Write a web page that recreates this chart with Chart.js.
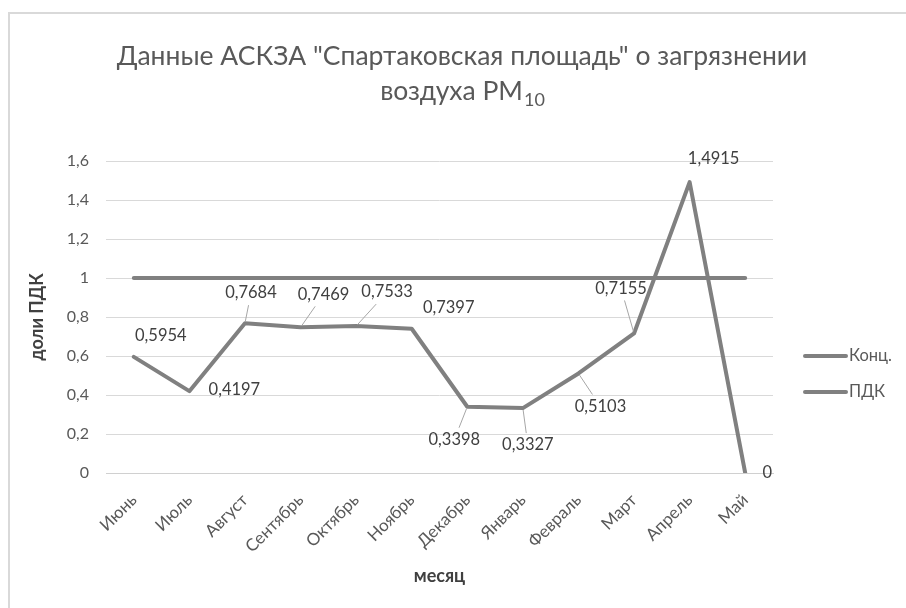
<!DOCTYPE html>
<html>
<head>
<meta charset="utf-8">
<script src="https://cdn.jsdelivr.net/npm/chart.js@4/dist/chart.umd.min.js"></script>
<style>
  html, body { margin: 0; padding: 0; background: #fff; }
  canvas { display: block; }
</style>
</head>
<body>
<canvas id="chartPM10" width="906" height="608"></canvas>
<script>
// Monthly PM10 readings, fractions of the limit value (ПДК)
const months = ['Июнь', 'Июль', 'Август', 'Сентябрь', 'Октябрь', 'Ноябрь',
                'Декабрь', 'Январь', 'Февраль', 'Март', 'Апрель', 'Май'];
const konc = [0.5954, 0.4197, 0.7684, 0.7469, 0.7533, 0.7397,
              0.3398, 0.3327, 0.5103, 0.7155, 1.4915, 0];
const pdk = [1, 1, 1, 1, 1, 1, 1, 1, 1, 1, 1, 1];
const yTickLabels = ['0', '0,2', '0,4', '0,6', '0,8', '1', '1,2', '1,4', '1,6'];

// where each value label sits relative to its point: dx, dy, leader line
const labelPlace = [[27, -21, 0], [45, -1, 0], [6, -30, 1], [23, -33, 1], [31, -34, 1], [37, -21, 0],
                    [-13, 33, 1], [5, 37, 1], [22, 33, 1], [-13, -45, 1], [24, -23, 0], [22, 0, 0]];

const FONT = "Lato, 'Open Sans', sans-serif";
const LINE = '#808080';
const TEXT = '#595959';

function fmt(v) {
    return String(v).replace('.', ',');
}

const decorations = {
    id: 'decorations',
    beforeDraw(chart) {
        const ctx = chart.ctx;
        ctx.save();
        ctx.strokeStyle = '#d9d9d9';
        ctx.lineWidth = 2;
        ctx.beginPath();
        ctx.moveTo(9, 620);
        ctx.lineTo(9, 13);
        ctx.lineTo(920, 13);
        ctx.stroke();
        ctx.restore();
    },
    afterDraw(chart) {
        const ctx = chart.ctx;
        ctx.save();

        // title with subscript
        ctx.fillStyle = TEXT;
        ctx.textBaseline = 'alphabetic';
        ctx.textAlign = 'center';
        ctx.font = '26.5px ' + FONT;
        ctx.fillText('Данные АСКЗА "Спартаковская площадь" о загрязнении', 462, 65);
        const main = 'воздуха PM';
        const w1 = ctx.measureText(main).width;
        ctx.font = '18px ' + FONT;
        const w2 = ctx.measureText('10').width;
        const x0 = 462 - (w1 + w2) / 2;
        ctx.textAlign = 'left';
        ctx.font = '26.5px ' + FONT;
        ctx.fillText(main, x0, 100);
        ctx.font = '18px ' + FONT;
        ctx.fillText('10', x0 + w1 + 1, 106);

        // value labels of Конц.
        const meta = chart.getDatasetMeta(0);
        ctx.font = '16.5px ' + FONT;
        ctx.textAlign = 'center';
        ctx.textBaseline = 'middle';
        meta.data.forEach((pt, i) => {
            const [dx, dy, leader] = labelPlace[i];
            const lx = pt.x + dx, ly = pt.y + dy;
            if (leader) {
                const s = Math.min(dx ? 31 / Math.abs(dx) : 9, dy ? 12 / Math.abs(dy) : 9);
                ctx.strokeStyle = '#a6a6a6';
                ctx.lineWidth = 1;
                ctx.beginPath();
                ctx.moveTo(pt.x + dx * 0.05, pt.y + dy * 0.05);
                ctx.lineTo(lx - dx * s, ly - dy * s);
                ctx.stroke();
            }
            ctx.fillStyle = '#404040';
            ctx.fillText(fmt(konc[i]), lx, ly);
        });

        // legend
        const items = [chart.data.datasets[0].label, chart.data.datasets[1].label];
        items.forEach((t, i) => {
            const y = 356 + i * 36;
            ctx.strokeStyle = LINE;
            ctx.lineWidth = 4;
            ctx.lineCap = 'round';
            ctx.beginPath();
            ctx.moveTo(805, y);
            ctx.lineTo(846, y);
            ctx.stroke();
            ctx.fillStyle = TEXT;
            ctx.textAlign = 'left';
            ctx.fillText(t, 849, y);
        });
        ctx.restore();
    }
};

new Chart(document.getElementById('chartPM10'), {
    type: 'line',
    data: {
        labels: months,
        datasets: [{
            label: 'Конц.',
            data: konc,
            borderColor: LINE,
            borderWidth: 4,
            borderJoinStyle: 'round',
            borderCapStyle: 'round',
            pointRadius: 0,
            tension: 0,
            fill: false
        }, {
            label: 'ПДК',
            data: pdk,
            borderColor: LINE,
            borderWidth: 4,
            borderCapStyle: 'round',
            pointRadius: 0,
            tension: 0,
            fill: false
        }]
    },
    options: {
        responsive: false,
        animation: false,
        events: [],
        layout: { padding: { top: 161, right: 133, left: 0, bottom: 0 } },
        plugins: {
            legend: { display: false },
            tooltip: { enabled: false }
        },
        scales: {
            x: {
                offset: true,
                grid: { display: false },
                border: { display: true, color: '#d0d0d0', width: 1 },
                ticks: {
                    color: TEXT,
                    font: { family: FONT, size: 17 },
                    minRotation: 45,
                    maxRotation: 45,
                    padding: 9
                },
                title: {
                    display: true,
                    text: 'месяц',
                    color: '#404040',
                    font: { family: FONT, size: 18, weight: 'bold' },
                    padding: { top: 0, bottom: 21 }
                },
                afterFit(scale) { scale.height = 135; }
            },
            y: {
                min: 0,
                max: 1.6,
                grid: { color: '#d9d9d9', lineWidth: 1, drawTicks: false },
                border: { display: false },
                ticks: {
                    stepSize: 0.2,
                    color: TEXT,
                    font: { family: FONT, size: 16 },
                    padding: 17,
                    callback: (v, i) => yTickLabels[i]
                },
                title: {
                    display: true,
                    text: 'доли ПДК',
                    color: '#404040',
                    font: { family: FONT, size: 18, weight: 'bold' },
                    padding: { top: 26, bottom: 0 }
                },
                afterFit(scale) { scale.width = 106; }
            }
        }
    },
    plugins: [decorations]
});
</script>
</body>
</html>
